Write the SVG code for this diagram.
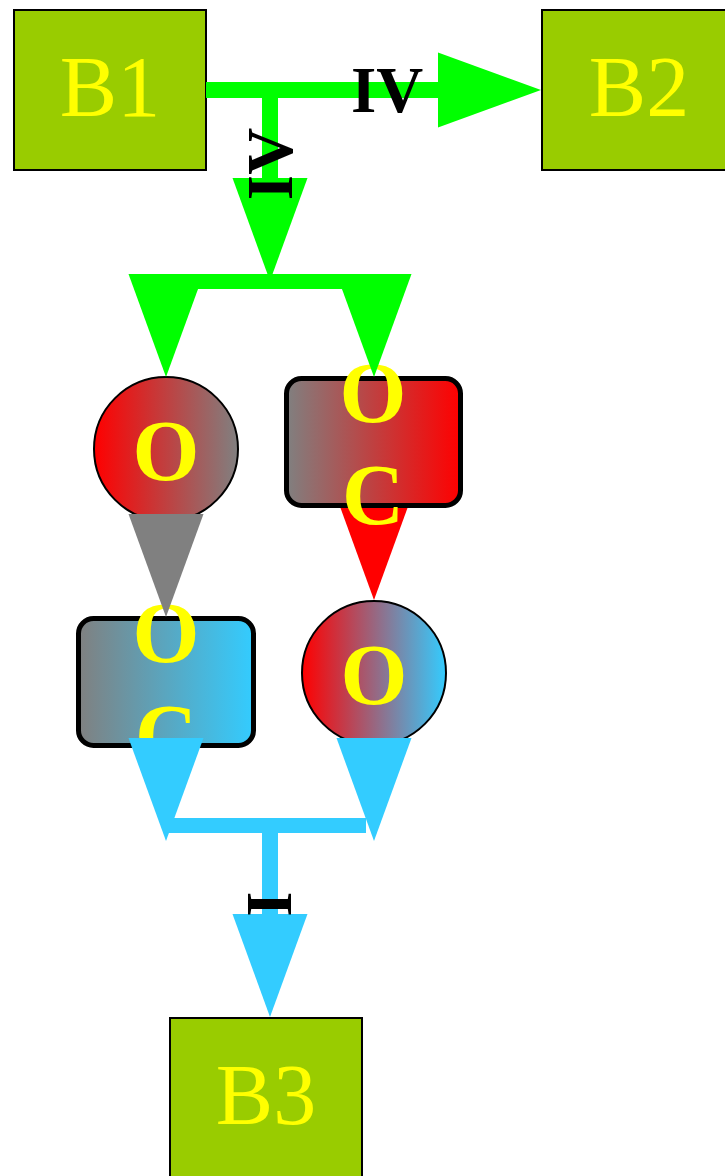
<svg xmlns="http://www.w3.org/2000/svg" width="725" height="1176" viewBox="0 0 725 1176">
<style>
.box{fill:#99cc00;stroke:#000;stroke-width:2}
.btxt{font-family:"Liberation Serif",serif;font-size:86px;fill:#ffff00;text-anchor:middle}
.ntxt{font-family:"Liberation Serif",serif;font-size:86px;font-weight:bold;fill:#ffff00;text-anchor:middle}
.circ{stroke:#000;stroke-width:2}
.rr{stroke:#000;stroke-width:5}
.lbl{font-family:"Liberation Serif",serif;font-size:65px;font-weight:bold;fill:#000;text-anchor:middle}
.g{fill:#00ff00}.gs{stroke:#00ff00;stroke-width:16;fill:none}
.c{fill:#33ccff}.cs{stroke:#33ccff;stroke-width:16;fill:none}
</style>
<defs>
<linearGradient id="gRedGray" x1="0" y1="0" x2="1" y2="0"><stop offset="0" stop-color="#ff0000"/><stop offset="1" stop-color="#808080"/></linearGradient>
<linearGradient id="gGrayRed" x1="0" y1="0" x2="1" y2="0"><stop offset="0" stop-color="#808080"/><stop offset="1" stop-color="#ff0000"/></linearGradient>
<linearGradient id="gGrayCyan" x1="0" y1="0" x2="1" y2="0"><stop offset="0" stop-color="#808080"/><stop offset="1" stop-color="#33ccff"/></linearGradient>
<linearGradient id="gRedCyan" x1="0" y1="0" x2="1" y2="0"><stop offset="0" stop-color="#ff0000"/><stop offset="1" stop-color="#33ccff"/></linearGradient>
</defs>
<g id="B1"><rect class="box" x="14" y="10" width="192" height="160"/><text class="btxt" x="110" y="116">B1</text></g>
<g id="B2"><rect class="box" x="542" y="10" width="192" height="160"/><text class="btxt" x="639" y="116">B2</text></g>
<g id="B3"><rect class="box" x="170" y="1018" width="192" height="160"/><text class="btxt" x="266" y="1124">B3</text></g>
<g id="circle1"><circle class="circ" cx="166" cy="449" r="72" fill="url(#gRedGray)"/><text class="ntxt" x="166" y="480">O</text></g>
<g id="circle2"><circle class="circ" cx="374" cy="673" r="72" fill="url(#gRedCyan)"/><text class="ntxt" x="374" y="704">O</text></g>
<g id="rect3"><rect class="rr" x="78.5" y="618.5" width="175" height="127" rx="15" fill="url(#gGrayCyan)"/><text class="ntxt" x="166" y="662">O</text><text class="ntxt" x="166" y="764">C</text></g>
<g id="connector-red"><polygon fill="#ff0000" points="336.5,497 411.5,497 374,600"/></g>
<g id="rect2"><rect class="rr" x="286.5" y="378.5" width="174" height="127" rx="15" fill="url(#gGrayRed)"/><text class="ntxt" x="373" y="422">O</text><text class="ntxt" x="373" y="524">C</text></g>
<g id="connectors">
<line class="gs" x1="206" y1="90" x2="440" y2="90"/>
<polygon class="g" points="438,52.5 541,90 438,127.5"/>
<line class="gs" x1="270" y1="90" x2="270" y2="180"/>
<polygon class="g" points="232.5,178 307.5,178 270,281"/>
<rect class="g" x="166" y="274" width="208" height="15"/>
<polygon class="g" points="128.5,274 203.5,274 166,377"/>
<polygon class="g" points="336.5,274 411.5,274 374,377"/>
<polygon fill="#808080" points="128.5,514 203.5,514 166,617"/>
<polygon class="c" points="128.5,738 203.5,738 166,841"/>
<polygon class="c" points="336.5,738 411.5,738 374,841"/>
<rect class="c" x="166" y="818" width="200" height="15"/>
<line class="cs" x1="270" y1="825" x2="270" y2="916"/>
<polygon class="c" points="232.5,914 307.5,914 270,1017"/>
<text class="lbl" x="387" y="112">IV</text>
<text class="lbl" transform="translate(292,164) rotate(-90)">IV</text>
<text class="lbl" transform="translate(291,904) rotate(-90)">I</text>
</g>
</svg>
